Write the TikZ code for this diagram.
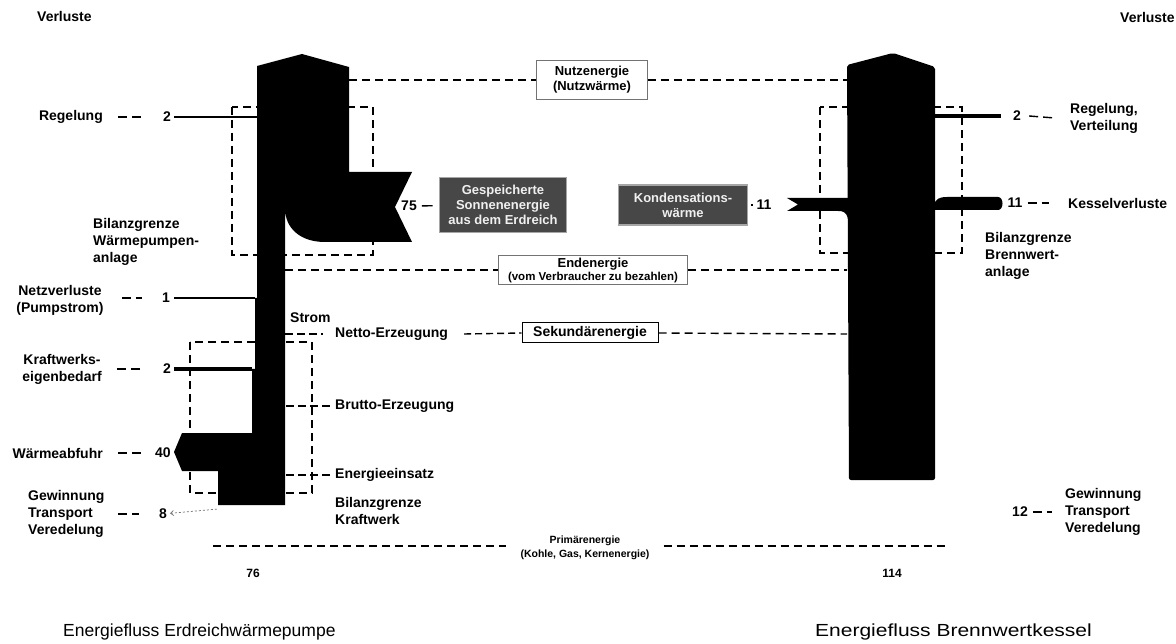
\documentclass[tikz,border=0pt]{standalone}
\usepackage{fontspec}
\setmainfont{Liberation Sans}
\usetikzlibrary{arrows.meta}
\newcommand\myLf{\fontsize{14}{17}\selectfont\bfseries}
\newcommand\myBf{\fontsize{13}{15}\selectfont\bfseries}
\newcommand\mySf{\fontsize{10.5}{14}\selectfont\bfseries}
\begin{document}
\begin{tikzpicture}[x=1pt,y=-1pt,
  lbl/.style={font=\myLf,inner sep=0pt},
  bnd/.style={draw,line width=1.4pt,dash pattern=on 8pt off 5pt},
  leader/.style={line width=1.4pt,dash pattern=on 9pt off 5pt},
  flow/.style={fill=black},
  lightbox/.style={draw=black!55,line width=0.8pt,fill=white,inner sep=1pt,align=center,font=\myBf},
  darkbox/.style={draw=black!35,line width=1.6pt,fill=black!72,text=black!6,inner sep=1pt,align=center,font=\myBf},
]
\useasboundingbox (0,0) rectangle (1176,644);
\fill[white] (0,0) rectangle (1176,644);

% ---------- boundaries (behind flows) ----------
\draw[bnd] (232,107) rectangle (373,255);
\draw[bnd] (820,107) rectangle (962,253);
\draw[bnd] (190,342) rectangle (312,493);

% ---------- energy level lines with boxes ----------
\node[lightbox,minimum width=111pt,minimum height=39pt] (nutz) at (592,80) {Nutzenergie\\(Nutzwärme)};
\coordinate (nutzL) at (349,80);
\coordinate (nutzR) at (847,80);
\draw[bnd] (nutzL) -- (nutz.west);
\draw[bnd] (nutz.east) -- (nutzR);

\node[lightbox,minimum width=189pt,minimum height=29pt,font=\fontsize{13}{13}\selectfont\bfseries] (endE) at (593,270) {Endenergie\\{\fontsize{11.5}{12}\selectfont(vom Verbraucher zu bezahlen)}};
\coordinate (endL) at (285,270);
\coordinate (endR) at (847,270);
\draw[bnd] (endL) -- (endE.west);
\draw[bnd] (endE.east) -- (endR);

\node[draw,line width=1pt,fill=white,inner sep=1pt,font=\myLf,minimum width=136pt,minimum height=20pt] (sek) at (590,333) {Sekundärenergie};
\coordinate (sekR) at (847,334);

\node[font=\mySf,inner sep=0pt,align=center] (prim) at (585,548) {Primärenergie\\(Kohle, Gas, Kernenergie)};
\coordinate (primL) at (213,546);
\coordinate (primR) at (945,546);
\draw[bnd] (primL) -- ([xshift=-14pt]prim.west |- primL);
\draw[bnd] ([xshift=14pt]prim.east |- primR) -- (primR);

% ---------- left flow (heat pump / power plant) ----------
\fill[flow] (257,66) -- (302,54) -- (349,67) -- (349,172) -- (412,172) -- (395,207) -- (412,242)
  -- (325,242) .. controls (300,242) and (285,228) .. (285,208) -- (285,505) -- (218,505)
  -- (218,471) -- (182,471) -- (174,452) -- (182,433) -- (252,433) -- (252,369) -- (255,369)
  -- (255,298) -- (257,298) -- cycle;

% ---------- right flow (condensing boiler) ----------
\fill[flow,rounded corners=2pt] (847,65) -- (893,53) -- (935,67) -- (935,480) -- (849,480) -- cycle;
\fill[flow] (787,198) -- (848,198) -- (848,218) .. controls (846,212) and (843,211) .. (838,211)
  -- (787,211) -- (798,204.5) -- cycle;
\fill[flow] (934,212) -- (934,206) .. controls (935,199) and (939,197) .. (947,197) -- (998,197)
  .. controls (1004,197) and (1004,210) .. (998,210) -- (934,210) -- cycle;

% ---------- gain boxes ----------
\node[darkbox,minimum width=127pt,minimum height=55pt] (gesp) at (503,205) {Gespeicherte\\Sonnenenergie\\aus dem Erdreich};
\node[darkbox,minimum width=129pt,minimum height=40pt] (kond) at (683,205) {Kondensations-\\wärme};
\node[lbl] (n75) at (409,206) {75};
\draw[line width=1.4pt,shorten <=5pt,shorten >=6pt] (n75) -- (gesp);
\node[lbl] (n11l) at (764,205) {11};
\draw[line width=1.4pt,shorten <=3pt,shorten >=3pt] (kond) -- (n11l);

% ---------- left labels ----------
\node[lbl,anchor=west] (verlL) at (37,16) {Verluste};

\node[lbl,anchor=east] (reg) at (103,117) {Regelung};
\node[lbl] (l2a) at (167,117) {2};
\coordinate (t2a) at (257,117);
\draw[leader] ([xshift=15pt]reg.east) -- ([xshift=-21pt]l2a.west);
\draw[line width=2.5pt,shorten <=3pt] (l2a) -- (t2a);

\node[lbl,anchor=north west,align=left] (bwp) at (93,218) {Bilanzgrenze\\Wärmepumpen-\\anlage};

\node[lbl,align=center] (netz) at (60,300) {Netzverluste\\(Pumpstrom)};
\node[lbl] (l1) at (166,298) {1};
\coordinate (t1) at (255,298);
\draw[leader] ([xshift=18pt]netz.east |- l1) -- ([xshift=-20pt]l1.west);
\draw[line width=2pt,shorten <=4pt] (l1) -- (t1);

\node[lbl,align=center] (kwe) at (62,369) {Kraftwerks-\\eigenbedarf};
\node[lbl] (l2b) at (167,369) {2};
\coordinate (t2b) at (252,369);
\draw[leader] ([xshift=15pt]kwe.east |- l2b) -- ([xshift=-21pt]l2b.west);
\draw[line width=4pt,shorten <=3pt] (l2b) -- (t2b);

\node[lbl,anchor=east] (wab) at (103,453) {Wärmeabfuhr};
\node[lbl] (l40) at (163,453) {40};
\draw[leader] ([xshift=15pt]wab.east) -- ([xshift=-13pt]l40.west);

\node[lbl,anchor=west,align=left] (gtv) at (28,514) {Gewinnung\\Transport\\Veredelung};
\node[lbl] (l8) at (163,514) {8};
\coordinate (t8) at (218,509);
\draw[leader] (118,514) -- ([xshift=-20pt]l8.west);
\draw[black!55,line width=0.7pt,dash pattern=on 2pt off 2pt,{Straight Barb[length=3pt,width=5pt]}-,shorten <=3pt] (l8) -- (t8);

% ---------- middle labels (power plant) ----------
\node[lbl,anchor=west] (strom) at (290,318) {Strom};
\node[lbl,anchor=west] (netto) at (335,334) {Netto-Erzeugung};
\coordinate (tn) at (285,334);
\draw[leader,dash pattern=on 8pt off 4pt] (tn) -- ([xshift=-12pt]netto.west);
\draw[bnd,dash pattern=on 7pt off 4pt] ([xshift=16pt]netto.east) -- (sek.west);
\draw[bnd] (sek.east) -- (sekR);

\node[lbl,anchor=west] (brutto) at (335,406) {Brutto-Erzeugung};
\coordinate (tb) at (286,406);
\draw[leader,dash pattern=on 8pt off 4pt] (tb) -- ([xshift=-3pt]brutto.west);

\node[lbl,anchor=west] (einsatz) at (335,475) {Energieeinsatz};
\coordinate (te) at (286,475);
\draw[leader,dash pattern=on 8pt off 4pt] (te) -- ([xshift=-3pt]einsatz.west);

\node[lbl,anchor=north west,align=left] (bkw) at (335,497) {Bilanzgrenze\\Kraftwerk};

% ---------- right labels ----------
\node[lbl,anchor=west] (verlR) at (1120,17) {Verluste};

\node[lbl] (r2) at (1017,116) {2};
\coordinate (tr2) at (935,116);
\draw[line width=4pt,shorten >=12pt] (tr2) -- (r2);
\node[lbl,align=center] (rv) at (1104,118) {Regelung,\\Verteilung};
\draw[leader] ([xshift=8pt]r2.east) -- ([xshift=-15pt]rv.west);

\node[lbl] (r11) at (1015,203) {11};
\node[lbl,anchor=west] (kv) at (1068,203) {Kesselverluste};
\draw[leader] ([xshift=5pt]r11.east) -- ([xshift=-19pt]kv.west);

\node[lbl,anchor=north west,align=left] (bbw) at (985,232) {Bilanzgrenze\\Brennwert-\\anlage};

\node[lbl] (r12) at (1020,512) {12};
\node[lbl,anchor=west,align=left] (rgtv) at (1065,512) {Gewinnung\\Transport\\Veredelung};
\draw[leader] ([xshift=5pt]r12.east) -- ([xshift=-13pt]rgtv.west);

% ---------- totals and captions ----------
\node[font=\fontsize{12}{12}\selectfont\bfseries] (tot1) at (253,573) {76};
\node[font=\fontsize{12}{12}\selectfont\bfseries] (tot2) at (892,573) {114};
\node[anchor=west,inner sep=0pt,font=\fontsize{17.5}{20}\selectfont] (cap1) at (63,632) {Energiefluss Erdreichwärmepumpe};
\node[anchor=west,inner sep=0pt,font=\fontsize{17.5}{20}\selectfont] (cap2) at (815,632) {\scalebox{1.2}[1]{Energiefluss Brennwertkessel}};
\end{tikzpicture}
\end{document}
